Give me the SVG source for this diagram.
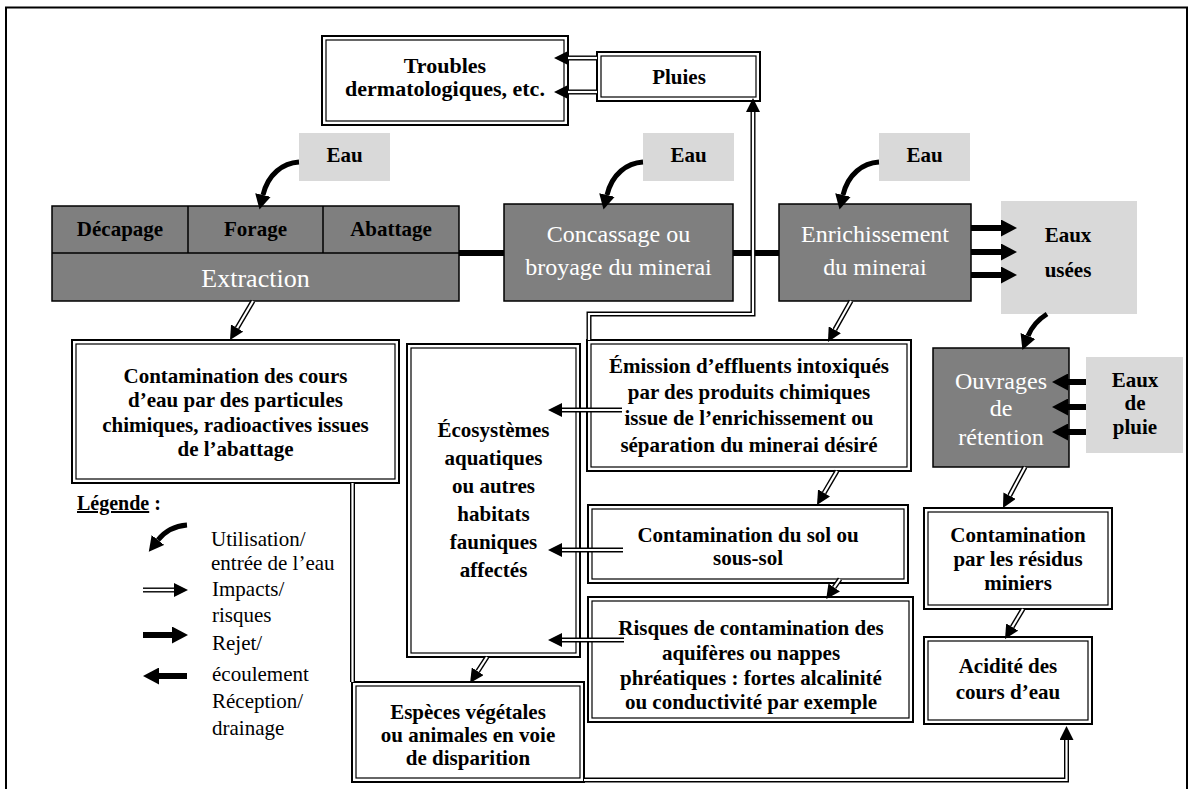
<svg xmlns="http://www.w3.org/2000/svg" width="1194" height="789" viewBox="0 0 1194 789">
<defs>
<style>
.b{font-family:"Liberation Serif","Times New Roman",serif;font-weight:bold;font-size:21px;fill:#000;text-anchor:middle}
.w{font-family:"Liberation Serif","Times New Roman",serif;font-size:24px;fill:#fff;text-anchor:middle}
.l{font-family:"Liberation Serif","Times New Roman",serif;font-size:21px;fill:#000}
.o{fill:#fff;stroke:#000;stroke-width:2}
.i{fill:none;stroke:#000;stroke-width:1.2}
.g{fill:#7f7f7f;stroke:#000;stroke-width:1.5}
.lg{fill:#d9d9d9}
.dk{fill:none;stroke:#000;stroke-width:5}
.dw{fill:none;stroke:#fff;stroke-width:2.2;marker-end:url(#mi)}
.th{fill:none;stroke:#000;stroke-width:6}
.cv{fill:none;stroke:#000;stroke-width:5;marker-end:url(#mc)}
</style>
<marker id="mi" viewBox="0 0 14 14" refX="0" refY="7" markerWidth="14" markerHeight="14" markerUnits="userSpaceOnUse" orient="auto"><path d="M0,0 L14,7 L0,14 z" fill="#000"/></marker>
<marker id="mt" viewBox="0 0 16 17" refX="0" refY="8.5" markerWidth="16" markerHeight="17" markerUnits="userSpaceOnUse" orient="auto"><path d="M0,0 L16,8.5 L0,17 z" fill="#000"/></marker>
<marker id="mc" viewBox="0 0 15 16" refX="0" refY="8" markerWidth="15" markerHeight="16" markerUnits="userSpaceOnUse" orient="auto"><path d="M0,0 L15,8 L0,16 z" fill="#000"/></marker>
</defs>
<rect x="0" y="0" width="1194" height="789" fill="#fff"/>
<rect id="frame" x="6" y="7.5" width="1181" height="800" fill="none" stroke="#000" stroke-width="2"/>

<g id="troubles"><rect class="o" x="322" y="36" width="246" height="89"/><rect class="i" x="326" y="40" width="238" height="81"/>
<text class="b" x="445" y="73" style="font-size:22px">Troubles</text><text class="b" x="445" y="96" style="font-size:22px">dermatologiques, etc.</text></g>
<g id="pluies"><rect class="o" x="597" y="52" width="163" height="49"/><rect class="i" x="601" y="56" width="155" height="41"/>
<text class="b" x="679" y="84">Pluies</text></g>

<g id="eau1"><rect class="lg" x="299" y="133" width="91" height="48"/><text class="b" x="344.5" y="162">Eau</text></g>
<g id="eau2"><rect class="lg" x="643" y="133" width="91" height="48"/><text class="b" x="688.5" y="162">Eau</text></g>
<g id="eau3"><rect class="lg" x="879" y="133" width="91" height="48"/><text class="b" x="924.5" y="162">Eau</text></g>

<g id="extraction"><rect class="g" x="52" y="206" width="407" height="95"/>
<path d="M52,253 H459 M188,206 V253 M323,206 V253" stroke="#000" stroke-width="1.5" fill="none"/>
<text class="b" x="120" y="236">Décapage</text><text class="b" x="255.5" y="236">Forage</text><text class="b" x="391" y="236">Abattage</text>
<text class="w" x="255.5" y="287" style="font-size:26px">Extraction</text></g>

<g id="concassage"><rect class="g" x="504" y="204" width="229" height="97"/>
<text class="w" x="618.5" y="242">Concassage ou</text><text class="w" x="618.5" y="275">broyage du minerai</text></g>
<g id="enrichissement"><rect class="g" x="779" y="204" width="192" height="97"/>
<text class="w" x="875" y="242">Enrichissement</text><text class="w" x="875" y="275">du minerai</text></g>

<g id="eauxusees"><rect class="lg" x="1001" y="201" width="136" height="113"/>
<text class="b" x="1068" y="242">Eaux</text><text class="b" x="1068" y="277">usées</text></g>
<g id="ouvrages"><rect class="g" x="933" y="348" width="136" height="119"/>
<text class="w" x="1001" y="389">Ouvrages</text><text class="w" x="1001" y="416">de</text><text class="w" x="1001" y="445">rétention</text></g>
<g id="eauxpluie"><rect class="lg" x="1086" y="357" width="97" height="96"/>
<text class="b" x="1135" y="387">Eaux</text><text class="b" x="1135" y="410">de</text><text class="b" x="1135" y="434">pluie</text></g>

<g id="contamination-eau"><rect class="o" x="72" y="340" width="327" height="143"/><rect class="i" x="76" y="344" width="319" height="135"/>
<text class="b" x="235.5" y="383">Contamination des cours</text><text class="b" x="235.5" y="407">d’eau par des particules</text>
<text class="b" x="235.5" y="432">chimiques, radioactives issues</text><text class="b" x="235.5" y="456">de l’abattage</text></g>

<g id="ecosystemes"><rect class="o" x="407" y="344" width="173" height="313"/><rect class="i" x="411" y="348" width="165" height="305"/>
<text class="b" x="493.5" y="437">Écosystèmes</text><text class="b" x="493.5" y="465">aquatiques</text><text class="b" x="493.5" y="493">ou autres</text>
<text class="b" x="493.5" y="521">habitats</text><text class="b" x="493.5" y="549">fauniques</text><text class="b" x="493.5" y="577">affectés</text></g>

<g id="emission"><rect class="o" x="587" y="340" width="324" height="131"/><rect class="i" x="591" y="344" width="316" height="123"/>
<text class="b" x="749" y="373">Émission d’effluents intoxiqués</text><text class="b" x="749" y="399">par des produits chimiques</text>
<text class="b" x="749" y="425">issue de l’enrichissement ou</text><text class="b" x="749" y="452">séparation du minerai désiré</text></g>

<g id="contamination-sol"><rect class="o" x="588" y="505" width="320" height="78"/><rect class="i" x="592" y="509" width="312" height="70"/>
<text class="b" x="748" y="542">Contamination du sol ou</text><text class="b" x="748" y="565">sous-sol</text></g>

<g id="risques"><rect class="o" x="588" y="597" width="325" height="125"/><rect class="i" x="592" y="601" width="317" height="117"/>
<text class="b" x="751" y="635">Risques de contamination des</text><text class="b" x="751" y="660">aquifères ou nappes</text>
<text class="b" x="751" y="685">phréatiques : fortes alcalinité</text><text class="b" x="751" y="709">ou conductivité par exemple</text></g>

<g id="especes"><rect class="o" x="352" y="682" width="232" height="100"/><rect class="i" x="356" y="686" width="224" height="92"/>
<text class="b" x="468" y="719">Espèces végétales</text><text class="b" x="468" y="742">ou animales en voie</text><text class="b" x="468" y="765">de disparition</text></g>

<g id="residus"><rect class="o" x="924" y="508" width="188" height="101"/><rect class="i" x="928" y="512" width="180" height="93"/>
<text class="b" x="1018" y="542">Contamination</text><text class="b" x="1018" y="566">par les résidus</text><text class="b" x="1018" y="590">miniers</text></g>

<g id="acidite"><rect class="o" x="924" y="637" width="168" height="87"/><rect class="i" x="928" y="641" width="160" height="79"/>
<text class="b" x="1008" y="673">Acidité des</text><text class="b" x="1008" y="699">cours d’eau</text></g>

<g id="legende">
<text class="b" x="77" y="510" style="text-anchor:start;font-size:20px"><tspan text-decoration="underline">Légende</tspan> :</text>
<path class="cv" d="M187,525 C175,526 165,531 158,540"/>
<path class="dk" d="M143,590 H174"/><path class="dw" d="M143,590 H174"/>
<path class="th" d="M143,635 H172" marker-end="url(#mt)"/>
<path class="th" d="M187,676 H159" marker-end="url(#mt)"/>
<text class="l" x="211" y="546">Utilisation/</text>
<text class="l" x="211" y="570">entrée de l’eau</text>
<text class="l" x="212" y="596">Impacts/</text>
<text class="l" x="212" y="622">risques</text>
<text class="l" x="212" y="650">Rejet/</text>
<text class="l" x="212" y="681">écoulement</text>
<text class="l" x="212" y="708">Réception/</text>
<text class="l" x="212" y="735">drainage</text>
</g>

<g id="connectors">
<path class="th" d="M459,253 H504 M733,253 H779"/>
<path class="cv" d="M299,162 C283,163 268,174 263,195"/>
<path class="cv" d="M643,162 C627,163 612,174 607,195"/>
<path class="cv" d="M879,162 C863,163 848,174 843,195"/>
<path class="cv" d="M1047,314 C1039,319 1032,326 1028,336"/>
<path class="th" d="M971,228 H1001" marker-end="url(#mt)"/>
<path class="th" d="M971,252 H1001" marker-end="url(#mt)"/>
<path class="th" d="M971,275 H1001" marker-end="url(#mt)"/>
<path class="th" d="M1086,382 H1068" marker-end="url(#mt)"/>
<path class="th" d="M1086,407 H1068" marker-end="url(#mt)"/>
<path class="th" d="M1086,432 H1068" marker-end="url(#mt)"/>
<g><path class="dk" d="M597,58 H568"/><path class="dw" d="M597,58 H568"/></g>
<g><path class="dk" d="M597,92 H568"/><path class="dw" d="M597,92 H568"/></g>
<g><path class="dk" d="M589,340 V314 H753 V112"/><path class="dw" d="M589,340 V314 H753 V112"/></g>
<g><path class="dk" d="M253,301 L237.1,328"/><path class="dw" d="M253,301 L237.1,328"/></g>
<g><path class="dk" d="M851,301 L834.8,329.8"/><path class="dw" d="M851,301 L834.8,329.8"/></g>
<g><path class="dk" d="M622,410 H562"/><path class="dw" d="M622,410 H562"/></g>
<g><path class="dk" d="M623,550 H562"/><path class="dw" d="M623,550 H562"/></g>
<g><path class="dk" d="M624,640 H562"/><path class="dw" d="M624,640 H562"/></g>
<g><path class="dk" d="M837,471 L824.1,492.9"/><path class="dw" d="M837,471 L824.1,492.9"/></g>
<g><path class="dk" d="M840,579 L834.2,587.4"/><path class="dw" d="M840,579 L834.2,587.4"/></g>
<g><path class="dk" d="M487,657 L477.7,671.3"/><path class="dw" d="M487,657 L477.7,671.3"/></g>
<g><path class="dk" d="M1025,467 L1009.6,495.7"/><path class="dw" d="M1025,467 L1009.6,495.7"/></g>
<g><path class="dk" d="M1023,609 L1012.2,627"/><path class="dw" d="M1023,609 L1012.2,627"/></g>
<g><path class="dk" d="M352.5,483 V682 M584,780 H1066.5 V740"/><path class="dw" d="M352.5,483 V682 M584,780 H1066.5 V740"/></g>
</g>
</svg>
